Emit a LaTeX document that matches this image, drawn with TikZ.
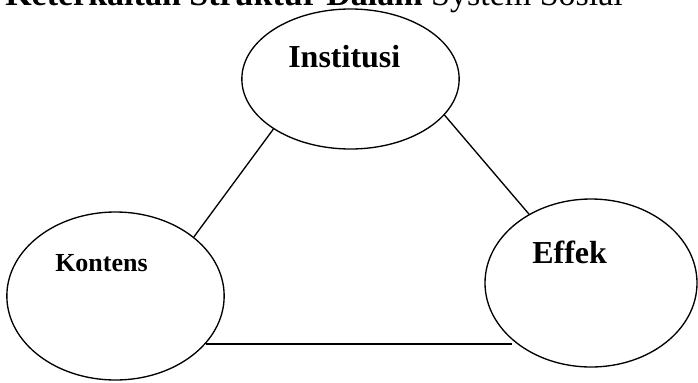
\documentclass[tikz,border=0pt]{standalone}
\usepackage{fontspec}
\setmainfont{Liberation Serif}
\usetikzlibrary{shapes.geometric}
\begin{document}
\begin{tikzpicture}[x=0.75pt, y=-0.75pt,
            bubble/.style={draw, ellipse, line width=1pt, inner sep=0pt},
            lbl/.style={anchor=base west, inner sep=0pt, font=\bfseries},
            link/.style={line width=1pt}, ]
            \useasboundingbox (0,0) rectangle (698,382);
            \clip (0,0) rectangle (698,382);
            \node[bubble, minimum width=163pt, minimum height=105pt] (inst) at (350.5,79) {};
            \node[bubble, minimum width=163pt, minimum height=126pt] (kont) at (115.5,296) {};
            \node[bubble, minimum width=159pt, minimum height=126pt] (eff) at (591,283) {};
            \node[anchor=base west, inner sep=0pt, font=\fontsize{25.5}{28}\selectfont] (title) at (5,6)
              {\textbf{Keterkaitan Struktur Dalam} System Sosial};
            \node[lbl, font=\fontsize{24}{28}\selectfont\bfseries] (instlbl) at (288,67) {Institusi};
            \node[lbl, font=\fontsize{19.5}{23}\selectfont\bfseries] (kontlbl) at (55,271) {Kontens};
            \node[lbl, font=\fontsize{24}{28}\selectfont\bfseries] (efflbl) at (532,263) {Effek};
            \draw[link] (inst.213.5) -- (kont.37.4);
            \draw[link] (inst.339.7) -- (eff.132.5);
            \draw[link] (kont.332.3) -- (kont.332.3 -| eff.216.9);
          \end{tikzpicture}
\end{document}
